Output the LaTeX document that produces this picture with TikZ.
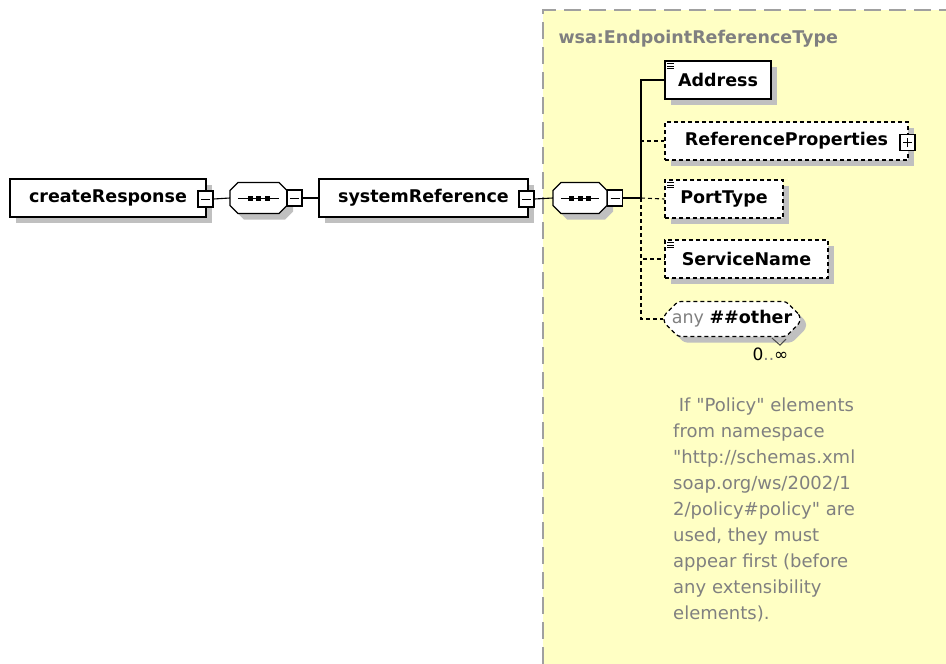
\documentclass[tikz,border=0pt]{standalone}
\usepackage{fontspec}
\setmainfont{DejaVu Sans}[Ligatures=TeXOff]
\usetikzlibrary{shapes.misc,shadows}
\definecolor{panelyellow}{RGB}{255,255,196}
\definecolor{panelgray}{RGB}{160,160,160}
\definecolor{shadowgray}{RGB}{192,192,192}
\definecolor{notegray}{RGB}{128,128,128}
\tikzset{
  elem/.style={draw,fill=white,line width=1.2pt,font=\fontsize{17.5}{20}\selectfont\bfseries,
    minimum height=38pt,inner sep=0pt,
    drop shadow={shadow xshift=6pt,shadow yshift=-6pt,fill=shadowgray,opacity=1}},
  optelem/.style={elem,dash pattern=on 4pt off 3pt},
  seqbox/.style={minimum width=56pt,minimum height=31pt,inner sep=0pt},
  btn/.style={draw,fill=white,line width=1.1pt,minimum width=15pt,minimum height=16pt,inner sep=0pt},
  link/.style={line width=1.1pt},
  optlink/.style={line width=1.1pt,dash pattern=on 4pt off 3pt}
}
% octagon of a compositor: centre x, centre y, half width
\newcommand{\octagon}[3]{({#1-#3+8},{#2-15.5})--({#1+#3-8},{#2-15.5})--({#1+#3},{#2-7.5})--({#1+#3},{#2+7.5})
  --({#1+#3-8},{#2+15.5})--({#1-#3+8},{#2+15.5})--({#1-#3},{#2+7.5})--({#1-#3},{#2-7.5})--cycle}
% minus / plus signs in a button
\newcommand{\minussign}[1]{\draw[line width=1pt] ([xshift=-4.5pt]#1.center)--([xshift=4.5pt]#1.center);}
\newcommand{\plussign}[1]{\minussign{#1}\draw[line width=1pt] ([yshift=-4.5pt]#1.center)--([yshift=4.5pt]#1.center);}
% sequence mark inside a compositor
\newcommand{\seqmark}[1]{
  \draw[line width=1pt] ([xshift=8pt]#1.west)--([xshift=-8pt]#1.east);
  \foreach \dx in {-8.5,0,8.5}
    \fill ([xshift=\dx pt]#1.center) +(-2.5pt,-2.5pt) rectangle +(2.5pt,2.5pt);
}
% little lines marking simple content
\newcommand{\textmark}[1]{
  \foreach \dy in {3,5.5,8}
    \draw[line width=0.8pt] ([xshift=3pt,yshift=-\dy pt]#1.north west)--+(6.5pt,0);
}
\begin{document}
\begin{tikzpicture}[x=1pt,y=-1pt]
\useasboundingbox (0,0) rectangle (946,664);
% type panel
\fill[panelyellow] (543,10) rectangle (946,664);
\draw[panelgray,line width=2pt,dash pattern=on 17pt off 8pt] (543,664)--(543,10)--(946,10);
\node[anchor=base west,text=notegray,font=\fontsize{17.5}{20}\selectfont\bfseries] (typename) at (555,43) {wsa:EndpointReferenceType};

% elements
\node[elem,minimum width=196pt] (createresp) at (108,198) {createResponse};
\node[btn] (createbtn) at (205.5,199) {};
\minussign{createbtn}
\fill[shadowgray,shift={(6,6)}] \octagon{258.5}{198}{28.5};
\draw[fill=white,line width=1.2pt] \octagon{258.5}{198}{28.5};
\node[seqbox,minimum width=57pt] (seqa) at (258.5,198) {};
\seqmark{seqa}
\node[btn] (seqabtn) at (294.5,198) {};
\minussign{seqabtn}
\node[elem,minimum width=209pt] (sysref) at (423.5,198) {systemReference};
\node[btn] (sysrefbtn) at (526.5,199) {};
\minussign{sysrefbtn}
\fill[shadowgray,shift={(6,6)}] \octagon{580}{198}{27};
\draw[fill=white,line width=1.2pt] \octagon{580}{198}{27};
\node[seqbox,minimum width=54pt] (seqb) at (580,198) {};
\seqmark{seqb}
\node[btn] (seqbbtn) at (615,198) {};
\minussign{seqbbtn}
\coordinate (trunk) at (641,198);

\node[elem,minimum width=106pt] (address) at (718,80) {Address};
\textmark{address}
\node[optelem,minimum width=243pt] (refprops) at (786.5,141) {ReferenceProperties\hspace{6pt}};
\node[btn] (refpropsbtn) at (907.5,142.5) {};
\plussign{refpropsbtn}
\node[optelem,minimum width=118pt] (porttype) at (724,199) {PortType};
\textmark{porttype}
\node[optelem,minimum width=163pt] (servicename) at (746.5,259) {ServiceName};
\textmark{servicename}
\node[optelem,chamfered rectangle,chamfered rectangle xsep=7pt,chamfered rectangle ysep=7pt,
  rounded corners=3pt,minimum width=136pt,minimum height=35pt,font=\fontsize{17.5}{20}\selectfont] (anyother) at (732,319)
  {\textcolor{notegray}{any} \textbf{\#\#other}};
\draw[line width=1pt,black!70] ([xshift=40pt,yshift=-1pt]anyother.south)--++(8pt,-7pt)--++(6pt,6pt);
\node[anchor=base west,font=\fontsize{17}{20}\selectfont] (occurs) at (749,360) {0\textcolor{notegray}{..}∞};

% connectors
\draw[link] (createbtn.east)--(seqa.west);
\draw[link] (seqabtn.east)--(sysref.west);
\draw[link] (sysrefbtn.east)--(seqb.west);
\draw[link] (seqbbtn.east)--(trunk);
\draw[link] (trunk)|-(address.west);
\draw[optlink] (trunk)|-(refprops.west);
\draw[optlink] (trunk)--(porttype.west);
\draw[optlink] (trunk)|-(servicename.west);
\draw[optlink] (trunk)|-(anyother.west);

% annotation
\node[anchor=north west,inner sep=0pt,align=left,text=notegray,font=\fontsize{18}{26}\selectfont] (note) at (673,398)
  {\ If "Policy" elements\\from namespace\\"http://schemas.xml\\soap.org/ws/2002/1\\2/policy\#policy" are\\used, they must\\appear first (before\\any extensibility\\elements).};
\end{tikzpicture}
\end{document}
